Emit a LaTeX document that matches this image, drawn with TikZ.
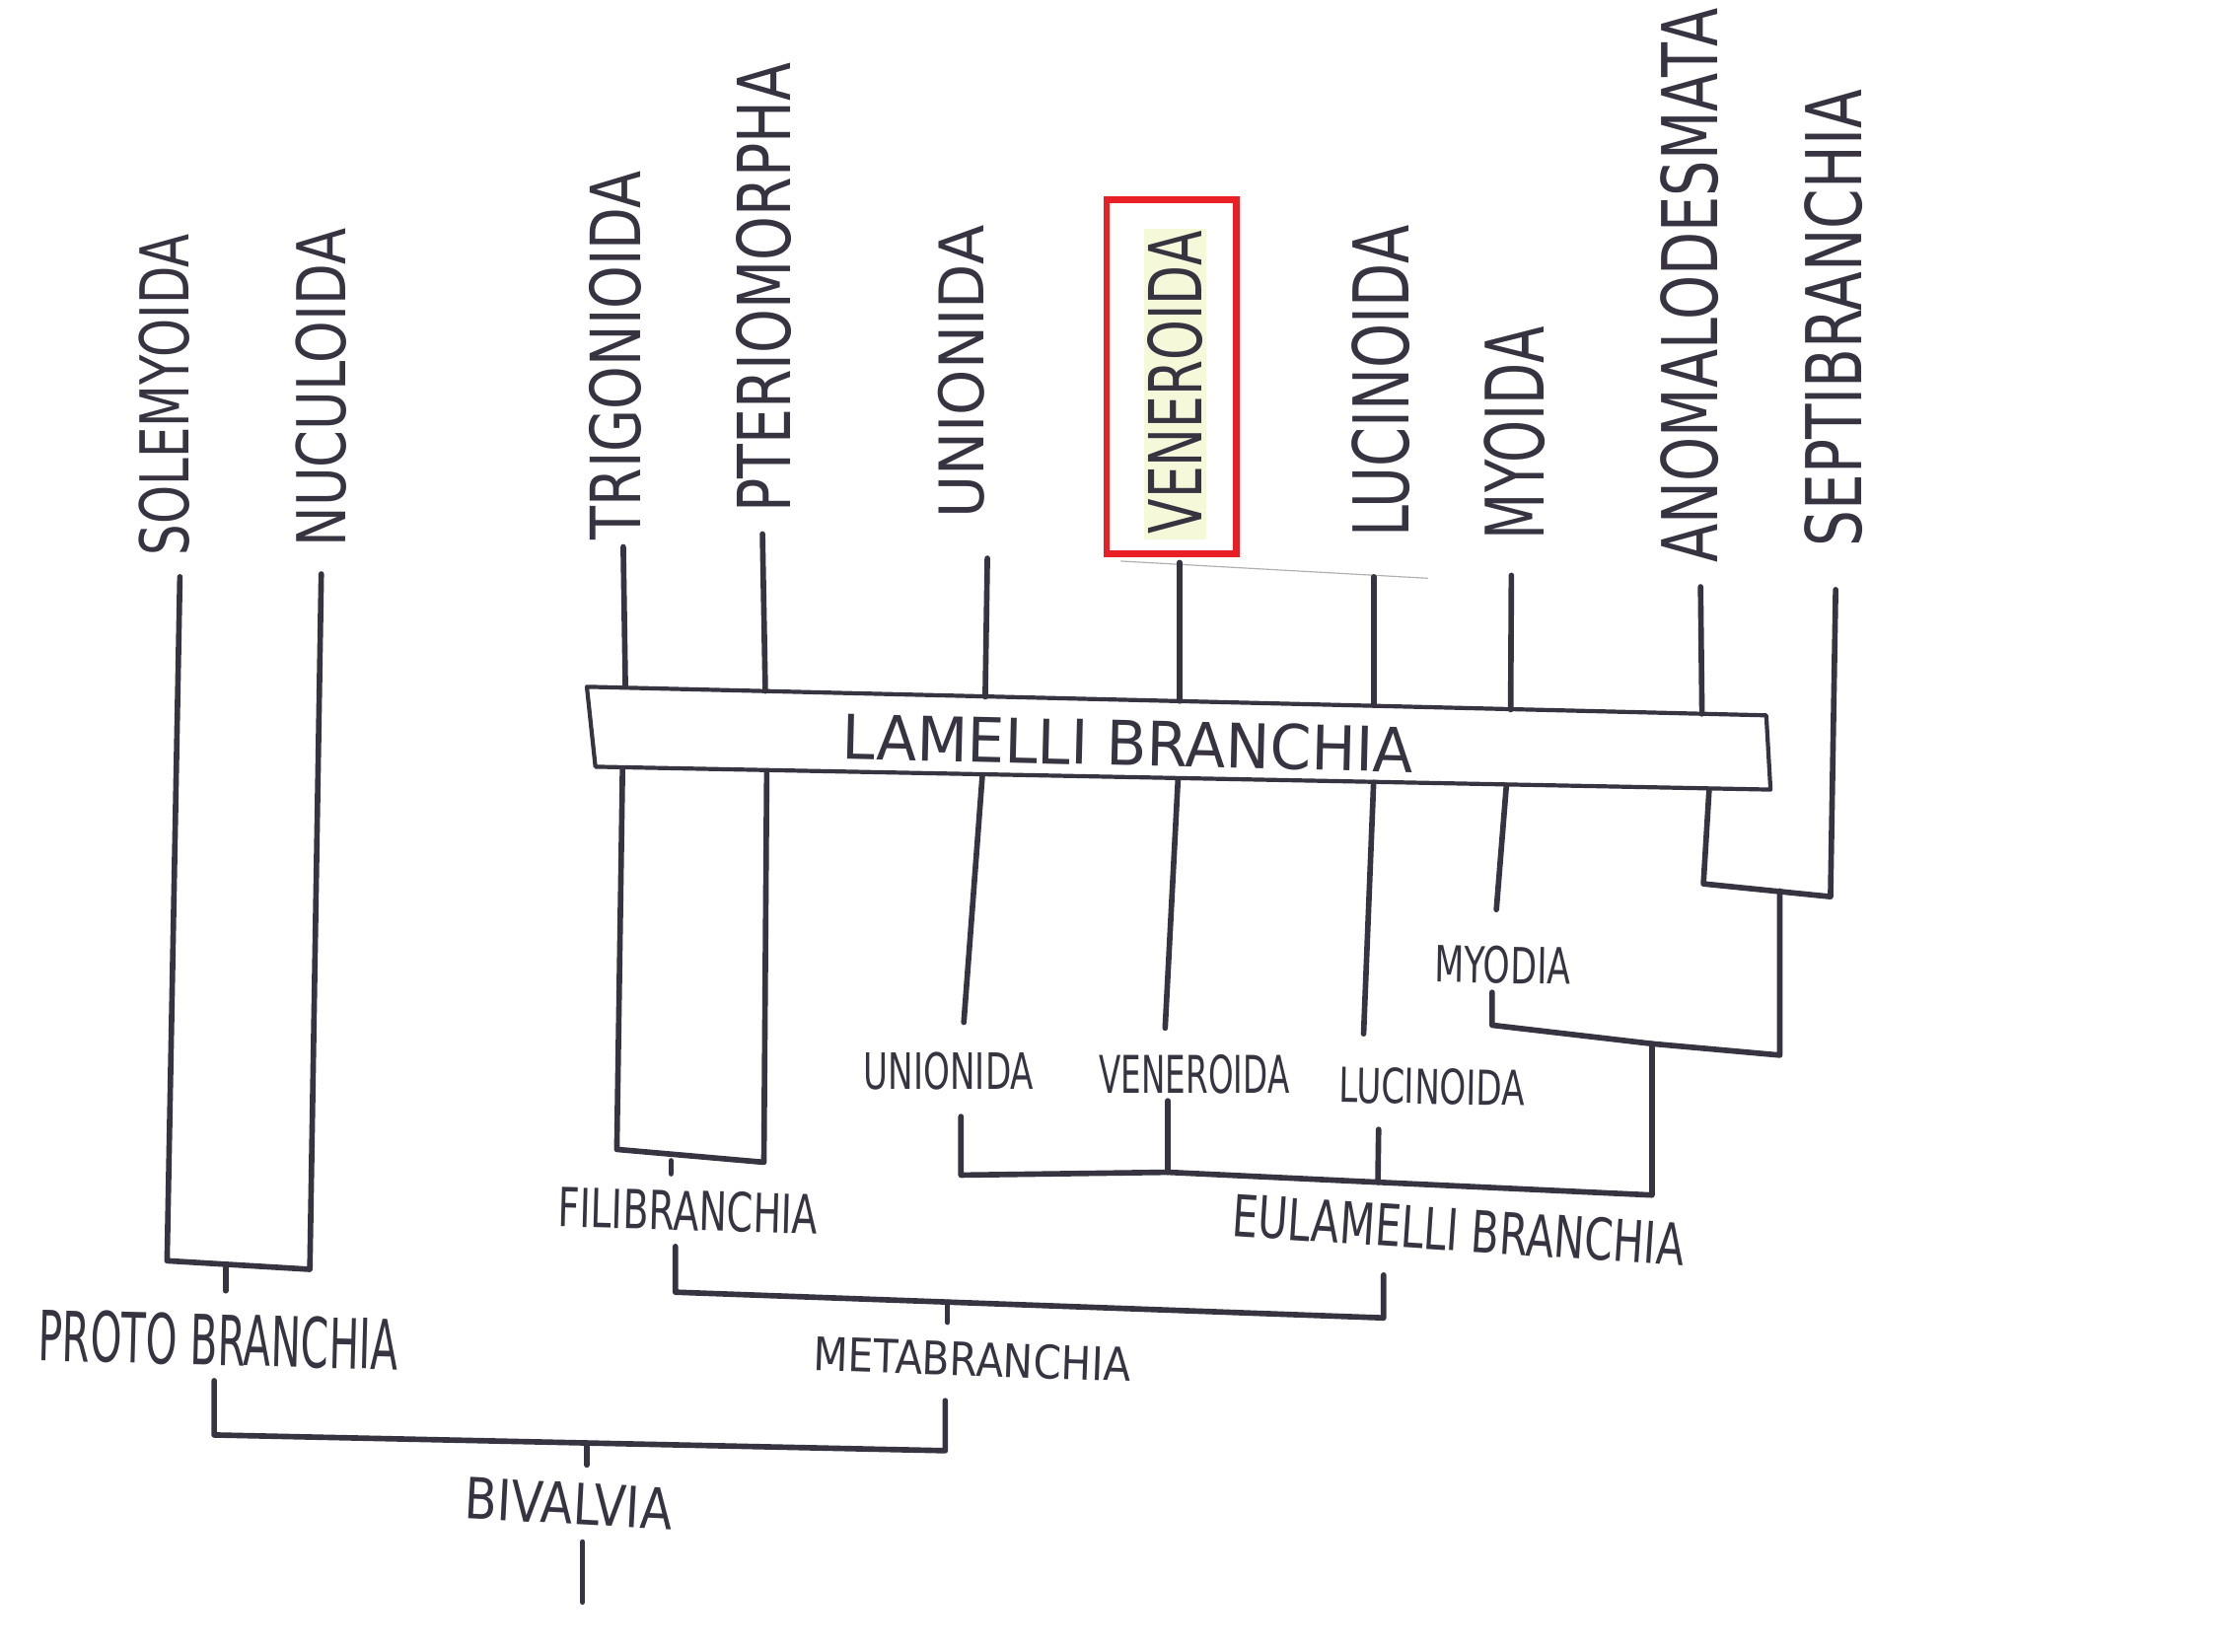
\documentclass[tikz,border=0pt]{standalone}
\usepackage{fontspec}
\setmainfont{DejaVu Sans}
\usepackage{graphicx}
\definecolor{ink}{RGB}{55,51,64}
\definecolor{redbox}{RGB}{232,32,38}
\definecolor{hilite}{RGB}{246,248,218}
\definecolor{faint}{RGB}{175,175,180}
\newcommand\fitt[3]{\resizebox{#1pt}{#2pt}{#3}}
\begin{document}
\begin{tikzpicture}[x=1pt,y=-1pt,
  lab/.style={inner sep=0pt, text=ink},
  vlab/.style={lab, rotate=90},
  branch/.style={draw=ink, line width=3.9pt, line cap=round, line join=round},
  tick/.style={branch},
  boxline/.style={draw=ink, line width=2.9pt, line join=round}]
\useasboundingbox[fill=white] (0,0) rectangle (1562.5,1157);

% highlight and red frame around VENEROIDA
\fill[hilite] (801,160) rectangle (845,378);
\draw[redbox, line width=4.5pt] (775,140) rectangle (866,388);
\draw[faint, line width=0.8pt] (785,393) -- (1000,405);

% vertical labels
\node[vlab] (sole) at (115,276.5) {\fitt{225}{35}{SOLEMYOIDA}};
\node[vlab] (nucu) at (225,271.5) {\fitt{223}{35}{NUCULOIDA}};
\node[vlab] (trig) at (431,249) {\fitt{258}{36}{TRIGONIOIDA}};
\node[vlab] (pter) at (535,201.5) {\fitt{315}{38}{PTERIOMORPHA}};
\node[vlab] (unio) at (673.5,260.5) {\fitt{205}{32}{UNIONIDA}};
\node[vlab] (vene) at (823,268) {\fitt{212}{38}{VENEROIDA}};
\node[vlab] (luci) at (967,267) {\fitt{218}{40}{LUCINOIDA}};
\node[vlab] (myoi) at (1061,303.5) {\fitt{149}{42}{MYOIDA}};
\node[vlab] (anom) at (1183,200) {\fitt{388}{40}{ANOMALODESMATA}};
\node[vlab] (sept) at (1284,223) {\fitt{320}{40}{SEPTIBRANCHIA}};

% lamellibranchia box
\coordinate (bx1) at (411,481);
\coordinate (bx2) at (1237,501);
\coordinate (bx3) at (1240,553);
\coordinate (bx4) at (417,537);
\draw[boxline] (bx1) -- (bx2) -- (bx3) -- (bx4) -- cycle;
\node[lab, rotate=-1.4] (lamelli) at (790,520.5) {\fitt{400}{32}{LAMELLI BRANCHIA}};

% coordinates of branch ends
\coordinate (soleT) at (126,404);  \coordinate (soleB) at (117,883);
\coordinate (nucuT) at (225,402);  \coordinate (nucuB) at (217,889);
\coordinate (protoK1) at (158,888); \coordinate (protoK2) at (158,904);

\coordinate (trigT) at (436.5,383); \coordinate (trigA) at (438,481);
\coordinate (trigL) at (436,538);   \coordinate (trigB) at (432,805);
\coordinate (pterT) at (534,374);   \coordinate (pterA) at (536,484);
\coordinate (pterL) at (537,540);   \coordinate (pterB) at (535,814);
\coordinate (filiK1) at (470,813);  \coordinate (filiK2) at (470,822);

\coordinate (metaL) at (473,873); \coordinate (metaLB) at (473,905);
\coordinate (metaRB) at (969,923); \coordinate (metaR) at (969,893);
\coordinate (metaK1) at (663.5,912); \coordinate (metaK2) at (663.5,926);

\coordinate (bivL) at (150,967); \coordinate (bivLB) at (150,1005);
\coordinate (bivRB) at (662,1016); \coordinate (bivR) at (662,981);
\coordinate (bivK1) at (411,1011); \coordinate (bivK2) at (411,1026);
\coordinate (rootT) at (408,1080); \coordinate (rootB) at (408,1122);

\coordinate (unioT) at (691.5,391); \coordinate (unioA) at (690,488);
\coordinate (unioL) at (688,543);   \coordinate (unioB) at (675,716);
\coordinate (veneT) at (826,394);   \coordinate (veneA) at (826,491);
\coordinate (veneL) at (825,546);   \coordinate (veneB) at (816,720);
\coordinate (luciT) at (962,404);   \coordinate (luciA) at (962,494);
\coordinate (luciL) at (962,548);   \coordinate (luciB) at (955,724);
\coordinate (myoiT) at (1058.5,403); \coordinate (myoiA) at (1058,497);
\coordinate (myoiL) at (1055,550);  \coordinate (myoiB) at (1048,637);
\coordinate (anomT) at (1191,411);  \coordinate (anomA) at (1192,500);
\coordinate (anomL) at (1197,553);  \coordinate (anomB) at (1193,619);
\coordinate (septT) at (1285.6,413); \coordinate (septB) at (1282,628);

\coordinate (asK) at (1246.5,624); \coordinate (asB) at (1246.5,739);
\coordinate (myodL) at (1045,695); \coordinate (myodLB) at (1045,718);
\coordinate (myodM) at (1157,731);

\coordinate (eulaR) at (1157,837); \coordinate (eulaM2) at (965,828);
\coordinate (eulaM1) at (818,821); \coordinate (eulaLB) at (673,823);
\coordinate (eulaL) at (673,782);
\coordinate (veneK) at (818,771); \coordinate (luciK) at (965.5,791);

% protobranchia
\draw[branch] (soleT) -- (soleB) -- (nucuB) -- (nucuT);
\draw[tick] (protoK1) -- (protoK2);

% above the box
\draw[branch] (trigT) -- (trigA);
\draw[branch] (pterT) -- (pterA);
\draw[branch] (unioT) -- (unioA);
\draw[branch] (veneT) -- (veneA);
\draw[branch] (luciT) -- (luciA);
\draw[branch] (myoiT) -- (myoiA);
\draw[branch] (anomT) -- (anomA);

% filibranchia
\draw[branch] (trigL) -- (trigB) -- (pterB) -- (pterL);
\draw[tick] (filiK1) -- (filiK2);

% below the box
\draw[branch] (unioL) -- (unioB);
\draw[branch] (veneL) -- (veneB);
\draw[branch] (luciL) -- (luciB);
\draw[branch] (myoiL) -- (myoiB);

% anomalodesmata + septibranchia
\draw[branch] (anomL) -- (anomB) -- (septB) -- (septT);
\draw[branch] (asK) -- (asB) -- (myodM) -- (myodLB) -- (myodL);

% eulamellibranchia
\draw[branch] (myodM) -- (eulaR) -- (eulaM2) -- (eulaM1) -- (eulaLB) -- (eulaL);
\draw[tick] (veneK) -- (eulaM1);
\draw[tick] (luciK) -- (eulaM2);

% metabranchia
\draw[branch] (metaL) -- (metaLB) -- (metaRB) -- (metaR);
\draw[tick] (metaK1) -- (metaK2);

% bivalvia
\draw[branch] (bivL) -- (bivLB) -- (bivRB) -- (bivR);
\draw[tick] (bivK1) -- (bivK2);
\draw[tick] (rootT) -- (rootB);

% lower labels
\node[lab, rotate=-1.5] (protobr) at (153,938.5) {\fitt{252}{36}{PROTO BRANCHIA}};
\node[lab, rotate=-3] (bival) at (398.5,1053) {\fitt{145}{29}{BIVALVIA}};
\node[lab, rotate=-1.6] (fili) at (482,848) {\fitt{182}{28}{FILIBRANCHIA}};
\node[lab, rotate=-2] (meta) at (681,952) {\fitt{222}{24}{METABRANCHIA}};
\node[lab] (unioLab) at (664.5,750) {\fitt{119}{26}{UNIONIDA}};
\node[lab] (veneLab) at (836.5,752.5) {\fitt{133}{27}{VENEROIDA}};
\node[lab, rotate=-1] (luciLab) at (1003,761) {\fitt{130}{25}{LUCINOIDA}};
\node[lab, rotate=-1] (myodia) at (1052.5,676) {\fitt{95}{26}{MYODIA}};
\node[lab, rotate=-3.8] (eula) at (1021.5,861.5) {\fitt{317}{30}{EULAMELLI BRANCHIA}};
\end{tikzpicture}
\end{document}
